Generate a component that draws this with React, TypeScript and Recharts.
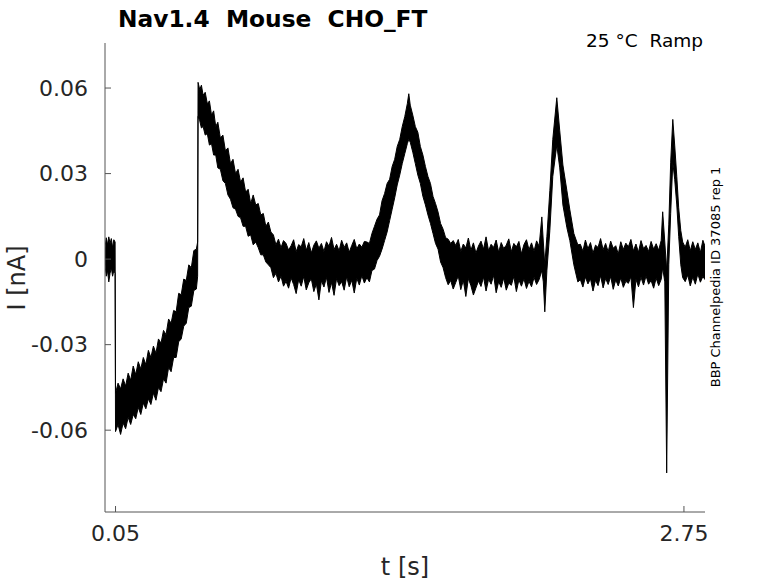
import React from "react";
import { ComposedChart, Area, XAxis, YAxis } from "recharts";

// sample times [s] left to right
const times = [
  // holding
  0, 0.006, 0.012, 0.018, 0.024, 0.03, 0.036, 0.042, 0.048,
  // ramp down
  0.05, 0.062, 0.074, 0.086, 0.098, 0.11, 0.122, 0.134, 0.146, 0.158, 0.17, 0.182, 0.194, 0.206, 0.218, 0.23, 0.242,
  0.254, 0.266, 0.278, 0.29, 0.302, 0.314, 0.326, 0.338, 0.35, 0.362, 0.374, 0.386, 0.398, 0.41, 0.422, 0.434, 0.44,
  // decay after jump
  0.442, 0.45, 0.458, 0.466, 0.476, 0.486, 0.496, 0.506, 0.516, 0.526, 0.536, 0.548, 0.56, 0.572, 0.584, 0.596,
  0.608, 0.62, 0.632, 0.644, 0.656, 0.668, 0.68, 0.692, 0.704, 0.716, 0.728, 0.74, 0.752, 0.764, 0.776, 0.788, 0.8,
  0.812, 0.824, 0.836, 0.848,
  // baseline
  0.86, 0.872, 0.884, 0.896, 0.908, 0.92, 0.932, 0.944, 0.956, 0.968, 0.98, 0.992, 1.004, 1.016, 1.028, 1.04, 1.052,
  1.064, 1.076, 1.088, 1.1, 1.112, 1.124, 1.136, 1.148, 1.16, 1.172, 1.184, 1.196, 1.208, 1.22, 1.232,
  // peak 1
  1.244, 1.256, 1.268, 1.28, 1.292, 1.304, 1.316, 1.328, 1.34, 1.352, 1.364, 1.376, 1.388, 1.4, 1.412, 1.424, 1.436,
  1.443, 1.45, 1.462, 1.474, 1.486, 1.498, 1.51, 1.522, 1.534, 1.546, 1.558, 1.57, 1.582, 1.594, 1.606, 1.618, 1.63,
  1.642, 1.654,
  // baseline
  1.666, 1.678, 1.69, 1.702, 1.714, 1.726, 1.738, 1.75, 1.762, 1.774, 1.786, 1.798, 1.81, 1.822, 1.834, 1.846, 1.858,
  1.87, 1.882, 1.894, 1.906, 1.918, 1.93, 1.942, 1.954, 1.966, 1.978, 1.99, 2.002, 2.014, 2.026, 2.038, 2.05, 2.062,
  // peak 2
  2.075, 2.082, 2.089, 2.099, 2.113, 2.127, 2.146, 2.16, 2.175, 2.194, 2.208, 2.227, 2.246,
  // baseline
  2.258, 2.27, 2.282, 2.294, 2.306, 2.318, 2.33, 2.342, 2.354, 2.366, 2.378, 2.39, 2.402, 2.414, 2.426, 2.438, 2.45,
  2.462, 2.474, 2.486, 2.498, 2.51, 2.522, 2.534, 2.546, 2.558, 2.57, 2.582, 2.594, 2.606, 2.618, 2.63, 2.642,
  // peak 3
  2.649, 2.659, 2.668, 2.678, 2.687, 2.697, 2.706, 2.716, 2.725, 2.735, 2.744,
  // tail
  2.756, 2.768, 2.78, 2.792, 2.804, 2.816, 2.828, 2.84, 2.85,
];

// top edge of the noisy current band [nA]
const upper = [
  0.004, 0.0075, 0.005, 0.0078, 0.0055, 0.0072, 0.004, 0.0068, 0.006,
  -0.047, -0.0435, -0.0455, -0.042, -0.0445, -0.04, -0.0425, -0.0375, -0.0405, -0.036, -0.0385, -0.0345, -0.037,
  -0.032, -0.0345, -0.0305, -0.033, -0.028, -0.0295, -0.025, -0.0265, -0.021, -0.0225, -0.018, -0.0185, -0.012,
  -0.0125, -0.007, -0.0075, -0.002, -0.003, 0.003, 0.0035, 0.006,
  0.062, 0.0595, 0.061, 0.0575, 0.0585, 0.0545, 0.0555, 0.0505, 0.052, 0.0465, 0.048, 0.0425, 0.0435, 0.038, 0.039,
  0.0335, 0.035, 0.03, 0.0315, 0.027, 0.0285, 0.0235, 0.0245, 0.0195, 0.0225, 0.019, 0.0195, 0.0155, 0.016, 0.0115,
  0.013, 0.0095, 0.0085, 0.005, 0.007, 0.004, 0.0065,
  0.0055, 0.0032, 0.0047, 0.0068, 0.0026, 0.0051, 0.0043, 0.0072, 0.0031, 0.0058, 0.0022, 0.0049, 0.0064, 0.0038,
  0.0055, 0.0027, 0.0061, 0.0045, 0.0076, 0.0034, 0.0052, 0.0029, 0.0066, 0.0041, 0.0057, 0.0024, 0.0048, 0.0069,
  0.0036, 0.0053, 0.0042, 0.0062,
  0.006, 0.0055, 0.009, 0.0115, 0.014, 0.0155, 0.0205, 0.023, 0.0265, 0.028, 0.0325, 0.035, 0.0395, 0.042, 0.0465,
  0.05, 0.0545, 0.058, 0.054, 0.0505, 0.0465, 0.0445, 0.0395, 0.0365, 0.0325, 0.029, 0.0265, 0.022, 0.0195, 0.0165,
  0.0125, 0.0105, 0.0075, 0.007, 0.0055, 0.0065,
  0.0048, 0.0069, 0.0027, 0.0053, 0.0039, 0.0074, 0.0031, 0.0057, 0.0021, 0.0046, 0.0063, 0.0035, 0.0078, 0.0029,
  0.0052, 0.0041, 0.0067, 0.0024, 0.0058, 0.0037, 0.0049, 0.0071, 0.0026, 0.0055, 0.0043, 0.0062, 0.0019, 0.0051,
  0.0068, 0.0033, 0.0057, 0.0028, 0.0064, 0.0045,
  0.0148, 0.006, -0.002, 0.008, 0.024, 0.042, 0.0566, 0.045, 0.033, 0.024, 0.0173, 0.009, 0.005,
  0.0052, 0.0028, 0.0067, 0.0036, 0.0058, 0.0021, 0.0049, 0.0041, 0.0072, 0.0033, 0.0055, 0.0026, 0.0063, 0.0038,
  0.0047, 0.0018, 0.0061, 0.0034, 0.0056, 0.0043, 0.0069, 0.0029, 0.0053, 0.0024, 0.0065, 0.0037, 0.0048, 0.0027,
  0.0062, 0.0035, 0.0054, 0.0031, 0.0066,
  0.0166, 0.006, -0.004, 0.012, 0.034, 0.049, 0.04, 0.029, 0.018, 0.01, 0.006,
  0.0042, 0.0068, 0.0029, 0.0061, 0.0034, 0.0057, 0.0023, 0.0066, 0.0045,
];

// bottom edge of the band [nA]
const lower = [
  -0.002, -0.006, -0.004, -0.008, -0.005, -0.003, -0.006, -0.004, -0.005,
  -0.0605, -0.058, -0.0615, -0.0575, -0.0595, -0.0555, -0.058, -0.0545, -0.056, -0.052, -0.0545, -0.0505, -0.0525,
  -0.049, -0.051, -0.047, -0.0495, -0.045, -0.0465, -0.042, -0.0435, -0.038, -0.0395, -0.0345, -0.0345, -0.029,
  -0.028, -0.0235, -0.0225, -0.017, -0.0165, -0.011, -0.0105, -0.006,
  0.05, 0.0485, 0.046, 0.0465, 0.0435, 0.044, 0.04, 0.0405, 0.0365, 0.0365, 0.032, 0.0315, 0.0275, 0.0265, 0.0225,
  0.021, 0.018, 0.0175, 0.015, 0.0145, 0.0115, 0.0115, 0.008, 0.0085, 0.005, 0.006, 0.004, 0.0015, 0.0015, -0.001,
  -0.002, -0.003, -0.0065, -0.005, -0.008, -0.006, -0.0095,
  -0.0078, -0.0102, -0.0066, -0.0089, -0.0121, -0.0072, -0.0095, -0.0061, -0.0108, -0.0083, -0.0069, -0.0114,
  -0.0087, -0.0143, -0.0076, -0.0098, -0.0064, -0.0117, -0.0082, -0.0127, -0.0068, -0.0093, -0.0079, -0.0109,
  -0.0062, -0.0097, -0.0074, -0.0119, -0.0067, -0.0091, -0.0058, -0.0084,
  -0.0065, -0.008, -0.004, -0.0035, -0.0005, 0.001, 0.0035, 0.0065, 0.0095, 0.0135, 0.0175, 0.0215, 0.026, 0.0295,
  0.0335, 0.037, 0.0405, 0.042, 0.041, 0.0375, 0.0335, 0.0295, 0.0265, 0.022, 0.019, 0.0155, 0.0125, 0.009, 0.0055,
  0.0035, -0.001, -0.003, -0.0065, -0.009, -0.0075, -0.0105,
  -0.0082, -0.0059, -0.0107, -0.0074, -0.0131, -0.0068, -0.0093, -0.0126, -0.0101, -0.0077, -0.0096, -0.0063,
  -0.0112, -0.0071, -0.0088, -0.0057, -0.0118, -0.0079, -0.0099, -0.0066, -0.0109, -0.0084, -0.0092, -0.0061,
  -0.0114, -0.0073, -0.0095, -0.0069, -0.0103, -0.0078, -0.0097, -0.0064, -0.0089, -0.0072,
  -0.004, -0.008, -0.0185, -0.004, 0.01, 0.029, 0.04, 0.032, 0.019, 0.011, 0.0065, -0.002, -0.008,
  -0.0072, -0.0098, -0.0063, -0.0087, -0.0069, -0.0112, -0.0074, -0.0093, -0.0058, -0.0101, -0.0068, -0.0089,
  -0.0061, -0.0106, -0.0073, -0.0094, -0.0066, -0.0099, -0.0078, -0.0085, -0.0062, -0.017, -0.0071, -0.0097,
  -0.0064, -0.0091, -0.0059, -0.0088, -0.0075, -0.0102, -0.0067, -0.0093, -0.0071,
  -0.003, -0.008, -0.075, -0.002, 0.016, 0.034, 0.028, 0.019, 0.008, -0.002, -0.0065,
  -0.0079, -0.0056, -0.0094, -0.0063, -0.0088, -0.0052, -0.0081, -0.0061, -0.0072,
];

const yTicks = [-0.06, -0.03, 0, 0.03, 0.06];
const xTicks = [0.05, 2.75];

const rows = times.map((t, i) => ({ t, band: [lower[i], upper[i]] }));

const font = "'DejaVu Sans', Verdana, sans-serif";
const axisColor = "#555555";
const textColor = "#262626";

export default function App() {
  return (
    <div
      style={{
        position: "absolute",
        left: 0,
        top: 0,
        width: 778,
        height: 583,
        background: "#fff",
        fontFamily: font,
      }}
    >
      <ComposedChart
        width={778}
        height={583}
        data={rows}
        margin={{ top: 43, right: 73, bottom: 11, left: 5 }}
      >
        <XAxis
          dataKey="t"
          type="number"
          domain={[0, 2.85]}
          ticks={xTicks}
          allowDataOverflow
          height={60}
          stroke={axisColor}
          tickSize={-6}
          tickMargin={19}
          tick={{ fill: textColor, fontSize: 22, fontFamily: font }}
          tickFormatter={(v: number) => v.toFixed(2)}
        />
        <YAxis
          type="number"
          domain={[-0.0887, 0.0758]}
          ticks={yTicks}
          allowDataOverflow
          width={100}
          stroke={axisColor}
          tickSize={-6}
          tickMargin={23}
          tick={{ fill: textColor, fontSize: 22, fontFamily: font }}
          tickFormatter={(v: number) => (v === 0 ? "0" : v.toFixed(2))}
        />
        <Area
          type="linear"
          dataKey="band"
          stroke="#000"
          strokeWidth={1}
          fill="#000"
          fillOpacity={1}
          dot={false}
          activeDot={false}
          isAnimationActive={false}
        />
      </ComposedChart>

      <svg
        width={778}
        height={583}
        style={{ position: "absolute", left: 0, top: 0, pointerEvents: "none" }}
      >
        <text
          x={118}
          y={27}
          fontSize={23.3}
          fontWeight="bold"
          fill="#000"
          fontFamily={font}
          style={{ whiteSpace: "pre" }}
        >
          {"Nav1.4  Mouse  CHO_FT"}
        </text>
        <text
          x={703}
          y={47}
          fontSize={18.5}
          textAnchor="end"
          fill="#000"
          fontFamily={font}
          style={{ whiteSpace: "pre" }}
        >
          {"25 °C  Ramp"}
        </text>
        <text
          x={405}
          y={575}
          fontSize={24}
          textAnchor="middle"
          fill={textColor}
          fontFamily={font}
        >
          t [s]
        </text>
        <text
          transform="translate(25,278) rotate(-90)"
          fontSize={24}
          textAnchor="middle"
          fill={textColor}
          fontFamily={font}
        >
          I [nA]
        </text>
        <text
          transform="translate(719.5,277) rotate(-90)"
          fontSize={13}
          textAnchor="middle"
          fill="#000"
          fontFamily={font}
        >
          BBP Channelpedia ID 37085 rep 1
        </text>
      </svg>
    </div>
  );
}
